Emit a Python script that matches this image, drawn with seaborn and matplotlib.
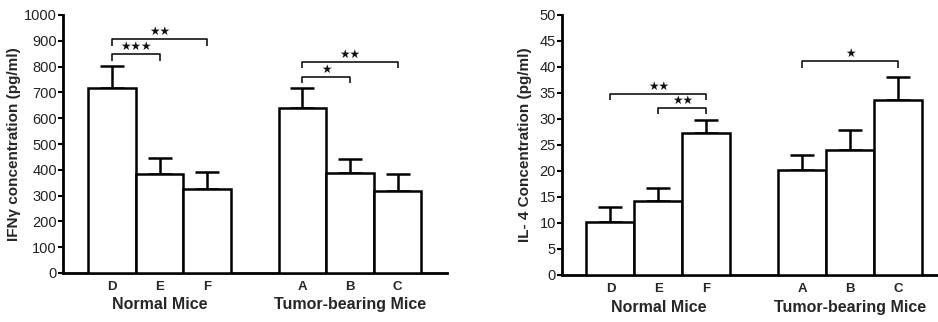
import matplotlib
matplotlib.use('Agg')
import matplotlib.pyplot as plt
import matplotlib.transforms as mtransforms
import seaborn as sns
import pandas as pd
import numpy as np

# ---- data ----
groups = ['D', 'E', 'F', 'A', 'B', 'C']
positions = [0, 1, 2, 4, 5, 6]
group_names = ['Normal Mice', 'Tumor-bearing Mice']
group_centers = [1, 5]

ifn_mean = [718, 384, 326, 638, 386, 319]
ifn_err = [85, 63, 67, 78, 57, 66]
il4_mean = [10.1, 14.2, 27.4, 20.1, 24.0, 33.7]
il4_err = [3.0, 2.5, 2.5, 3.0, 3.9, 4.4]

ifn_sig = [('D', 'F', 906, '★★'), ('D', 'E', 849, '★★★'),
           ('A', 'C', 819, '★★'), ('A', 'B', 761, '★')]
il4_sig = [('D', 'F', 34.9, '★★'), ('E', 'F', 32.2, '★★'),
           ('A', 'C', 41.2, '★')]

ifn_ticks = list(range(0, 1001, 100))
il4_ticks = list(range(0, 51, 5))

sns.set_theme(style='white')
plt.rcParams['font.family'] = ['Liberation Sans', 'DejaVu Sans']

W, H = 938, 322
fig = plt.figure(figsize=(W / 100, H / 100), dpi=100)

ax1 = fig.add_axes([63 / W, (H - 273) / H, (447 - 63) / W, (273 - 15) / H])
ax2 = fig.add_axes([562 / W, (H - 275) / H, (940 - 562) / W, (275 - 15) / H])


def draw(ax, means, errs, sig, ylabel, yticks, ylim, xlim, drop, labelpad, grp_y, tick_y):
    df = pd.DataFrame({'pos': positions, 'val': means, 'grp': groups})
    sns.barplot(data=df, x='pos', y='val', native_scale=True, width=1,
                color='white', edgecolor='black', linewidth=1.8,
                errorbar=None, ax=ax, zorder=3)
    for p in ax.patches:
        p.set_facecolor('white')
    ax.errorbar(positions, means, yerr=[np.zeros(len(errs)), errs], fmt='none',
                ecolor='black', elinewidth=1.8, capsize=8.5, capthick=1.8, zorder=2)
    pos_of = dict(zip(groups, positions))
    for a, b, y, lab in sig:
        x1, x2 = pos_of[a], pos_of[b]
        ax.plot([x1, x1, x2, x2], [y - drop, y, y, y - drop], color='black',
                lw=1.1, solid_capstyle='butt', zorder=4)
        ax.text((x1 + x2) / 2, y + drop * 0.12, lab, ha='center', va='bottom',
                fontsize=8.5, family=['DejaVu Sans'], color='#111')
    ax.set_xlim(*xlim)
    ax.set_ylim(*ylim)
    ax.set_yticks(yticks)
    ax.set_yticklabels([str(t) for t in yticks], fontsize=10.5, color='#222')
    ax.set_xticks(positions)
    ax.set_xticklabels(groups, fontsize=9.5, fontweight='bold')
    ax.set_xticks(group_centers, minor=True)
    ax.tick_params(axis='x', which='major', length=0, pad=tick_y)
    ax.tick_params(axis='x', which='minor', length=4, width=1.8, direction='out', color='black')
    ax.tick_params(axis='y', which='major', length=3.5, width=1.5, direction='out',
                   color='black', pad=1, left=True)
    for s in ['top', 'right']:
        ax.spines[s].set_visible(False)
    for s in ['left', 'bottom']:
        ax.spines[s].set_linewidth(2.0)
        ax.spines[s].set_color('black')
    ax.set_xlabel('')
    ax.set_ylabel(ylabel, fontsize=11, fontweight='bold', labelpad=labelpad)
    trans = mtransforms.blended_transform_factory(ax.transData, ax.transAxes)
    for gc, gn in zip(group_centers, group_names):
        ax.text(gc, grp_y, gn, transform=trans, ha='center', va='center',
                fontsize=11.5, fontweight='bold')
    ax.grid(False)


draw(ax1, ifn_mean, ifn_err, ifn_sig, 'IFNγ concentration (pg/ml)',
     ifn_ticks, (0, 1000), (-1.03, 7.04), 26, 2, -0.124, 6)
draw(ax2, il4_mean, il4_err, il4_sig, 'IL- 4 Concentration (pg/ml)',
     il4_ticks, (0, 50), (-1.01, 6.87), 1.3, 5, -0.126, 6)

fig.savefig('out.png', dpi=100)
